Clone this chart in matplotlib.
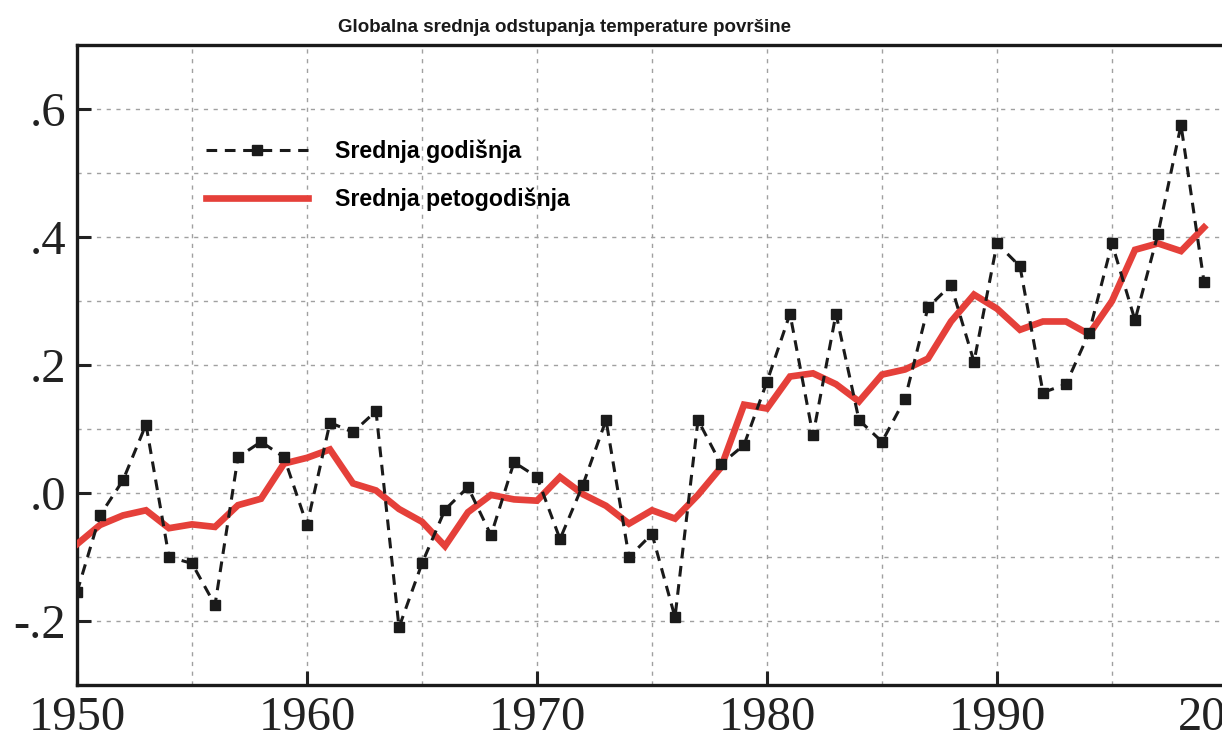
import matplotlib
matplotlib.use("Agg")
import matplotlib.pyplot as plt
import numpy as np

years = list(range(1950, 2000))
annual_mean = [-0.155, -0.035, 0.02, 0.107, -0.10, -0.11, -0.175, 0.056, 0.08, 0.056,
               -0.05, 0.11, 0.095, 0.128, -0.21, -0.11, -0.026, 0.009, -0.066, 0.048,
               0.025, -0.072, 0.013, 0.114, -0.10, -0.064, -0.194, 0.114, 0.045, 0.075,
               0.174, 0.28, 0.09, 0.28, 0.114, 0.08, 0.147, 0.29, 0.325, 0.205,
               0.39, 0.354, 0.157, 0.17, 0.25, 0.39, 0.27, 0.405, 0.575, 0.33]
five_year_mean = [-0.08, -0.05, -0.035, -0.027, -0.055, -0.049, -0.053, -0.019, -0.009, 0.046,
                  0.055, 0.068, 0.015, 0.004, -0.025, -0.045, -0.083, -0.03, -0.003, -0.01,
                  -0.012, 0.025, -0.002, -0.02, -0.048, -0.027, -0.04, -0.003, 0.04, 0.138,
                  0.132, 0.182, 0.187, 0.17, 0.143, 0.185, 0.193, 0.21, 0.268, 0.31,
                  0.288, 0.255, 0.268, 0.268, 0.248, 0.30, 0.38, 0.39, 0.378, 0.415]

x_ticks = [1950, 1960, 1970, 1980, 1990, 2000]
x_tick_labels = ["1950", "1960", "1970", "1980", "1990", "2000"]
y_ticks = [-0.2, 0.0, 0.2, 0.4, 0.6]
y_tick_labels = ["-.2", ".0", ".2", ".4", ".6"]

title = "Globalna srednja odstupanja temperature površine"
label_annual = "Srednja godišnja"
label_five = "Srednja petogodišnja"

W, H = 1222, 741
fig = plt.figure(figsize=(W / 100, H / 100), dpi=100)
left_px, right_px = 77, 1227
top_px, bottom_px = 45, 685
ax = fig.add_axes([left_px / W, (H - bottom_px) / H,
                   (right_px - left_px) / W, (bottom_px - top_px) / H])

ax.set_xlim(1950, 2000)
ax.set_ylim(-0.3, 0.7)

grid_kw = dict(color="#a0a0a0", linestyle=(0, (3, 4)), linewidth=1.0)
ax.set_xticks(np.arange(1950, 2001, 5), minor=True)
ax.set_yticks(np.arange(-0.3, 0.71, 0.1), minor=True)
ax.grid(True, which="both", **grid_kw)
ax.tick_params(which="minor", length=0)

ax.set_xticks(x_ticks)
ax.set_xticklabels(x_tick_labels)
ax.set_yticks(y_ticks)
ax.set_yticklabels(y_tick_labels)
ax.tick_params(which="major", direction="in", length=10, width=2.2, color="#222222",
               labelsize=35, pad=8)
for lab in ax.get_xticklabels() + ax.get_yticklabels():
    lab.set_family("Liberation Serif")
    lab.set_color("#222222")

for side in ["left", "bottom", "top"]:
    ax.spines[side].set_linewidth(2.4)
    ax.spines[side].set_color("#1a1a1a")
ax.spines["right"].set_visible(False)

ax.plot(years, five_year_mean, color="#e5403a", linewidth=4.8, solid_joinstyle="miter",
        label=label_five, zorder=3)
ax.plot(years, annual_mean, color="#1a1a1a", linewidth=2.2, linestyle=(0, (3.5, 2.5)),
        marker="s", markersize=6.5, label=label_annual, zorder=4)

h, l = ax.get_legend_handles_labels()
leg = ax.legend([h[1], h[0]], [l[1], l[0]], loc="upper left",
                bbox_to_anchor=(0.094, 0.885), frameon=False,
                prop={"family": "Liberation Sans", "weight": "bold", "size": 16.7},
                handlelength=4.4, handletextpad=1.15, labelspacing=1.05, numpoints=1)

fig.text(564 / W, 1 - 28 / H, title, ha="center", va="center",
         family="Liberation Sans", weight="bold", fontsize=13.5, color="#1a1a1a")

fig.savefig("out.png", dpi=100)
